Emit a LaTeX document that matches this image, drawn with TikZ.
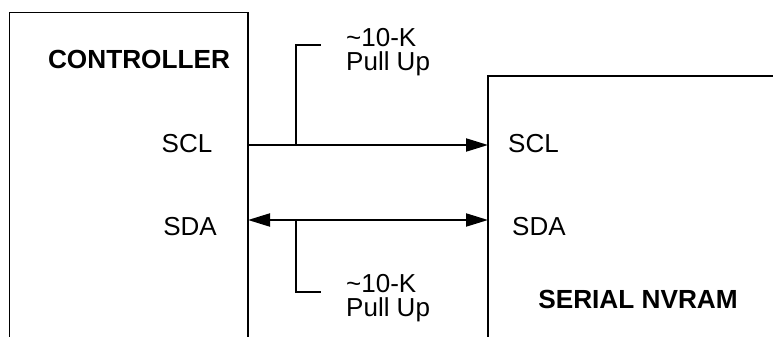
\documentclass[tikz,border=0pt]{standalone}
\usepackage{fontspec}
\setmainfont{Liberation Sans}
\usetikzlibrary{arrows.meta}

\tikzset{
  box/.style={line width=1.6pt},
  wire/.style={line width=2pt},
  tip/.tip={Triangle[length=22pt,width=13pt]},
  pinlabel/.style={font=\fontsize{26}{24}\selectfont, inner sep=0pt},
  blocklabel/.style={font=\bfseries\fontsize{26.2}{26}\selectfont, inner sep=0pt}
}

\begin{document}
\begin{tikzpicture}[x=1pt,y=-1pt]
  \useasboundingbox (0,0) rectangle (773,337);
  % the two chips, both cut off by the frame
  \draw[box] (9.5,337) -- (9.5,12.5) -- (248,12.5) -- (248,337);
  \draw[box] (773,76) -- (488,76) -- (488,337);
  \node[blocklabel] (ctrl) at (139,59) {CONTROLLER};
  \node[blocklabel] (nvram) at (638,299.5) {SERIAL NVRAM};
  \node[pinlabel] (ctrlscl) at (187,144) {SCL};
  \node[pinlabel] (ctrlsda) at (190,227) {SDA};
  \node[pinlabel,anchor=west] (nvscl) at (508,144) {SCL};
  \node[pinlabel,anchor=west] (nvsda) at (512,227) {SDA};
  % bus lines
  \coordinate (sclout) at (248,145);
  \coordinate (sclin) at (488,145);
  \coordinate (sdaout) at (248,220);
  \coordinate (sdain) at (488,220);
  \draw[wire,-tip] (sclout) -- (sclin);
  \draw[wire,tip-tip] (sdaout) -- (sdain);
  % pull-up taps
  \coordinate (tapscl) at (296,145);
  \coordinate (tapsda) at (296,220);
  \draw[wire] (tapscl) |- (321,45);
  \draw[wire] (tapsda) |- (321,292);
  \node[pinlabel,align=left,anchor=north west] (pullscl) at (346,28.4) {\textasciitilde10-K\\Pull Up};
  \node[pinlabel,align=left,anchor=north west] (pullsda) at (346,274.4) {\textasciitilde10-K\\Pull Up};
\end{tikzpicture}
\end{document}
